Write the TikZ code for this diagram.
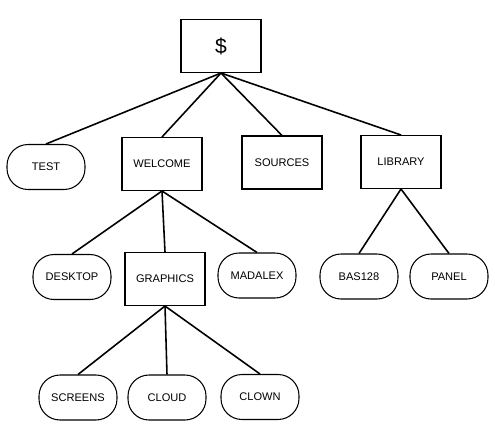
\documentclass[tikz,border=0pt]{standalone}
\usepackage{fontspec}
\setmainfont{Liberation Sans}
\usepackage{tikz}

\begin{document}
\begin{tikzpicture}[x=0.02cm, y=-0.02cm,
        dirbox/.style={draw, line width=0.6pt, minimum width=1.6cm, minimum height=1.06cm,
            inner sep=0pt, font=\fontsize{6.3}{7}\selectfont},
        filebox/.style={draw, line width=0.6pt, rounded corners=0.42cm, minimum width=1.56cm,
            minimum height=0.9cm, inner sep=0pt, font=\fontsize{6.3}{7}\selectfont},
        link/.style={line width=0.9pt}]
            \useasboundingbox (0,0) rectangle (495,424);
            % top directory
            \node[dirbox, font=\fontsize{12}{14}\selectfont] (root) at (221,46) {\$};
            % first level
            \node[filebox] (test) at (46,167) {TEST};
            \node[dirbox] (welcome) at (162,164) {WELCOME};
            \node[dirbox] (sources) at (282,162.5) {SOURCES};
            \node[dirbox] (library) at (401,162) {LIBRARY};
            % second level
            \node[filebox] (desktop) at (72,277) {DESKTOP};
            \node[dirbox] (graphics) at (165,279) {GRAPHICS};
            \node[filebox] (madalex) at (257,275.5) {MADALEX};
            \node[filebox] (bas128) at (359,276.5) {BAS128};
            \node[filebox] (panel) at (449,276.5) {PANEL};
            % third level
            \node[filebox] (screens) at (78,397.5) {SCREENS};
            \node[filebox] (cloud) at (167,397.5) {CLOUD};
            \node[filebox] (clown) at (260,397) {CLOWN};
            \foreach \p/\c in {root/test, root/welcome, root/sources, root/library,
                    welcome/desktop, welcome/graphics, welcome/madalex,
                    library/bas128, library/panel,
                    graphics/screens, graphics/cloud, graphics/clown} {
                \draw[link] (\p.south) -- (\c.north);
            }
        \end{tikzpicture}
\end{document}
